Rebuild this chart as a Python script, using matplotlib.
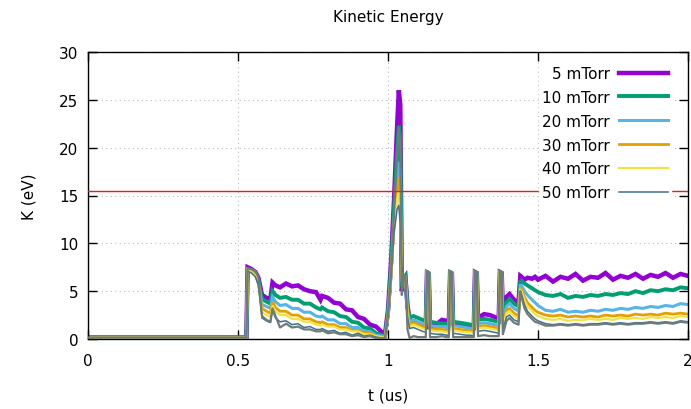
import matplotlib
matplotlib.use("Agg")
import matplotlib.pyplot as plt

# time grid (us), shared by every trace
t_us = [0, 0.528,
        0.532, 0.545, 0.558, 0.568,
        0.58, 0.595, 0.608,
        0.615, 0.625, 0.64,
        0.66, 0.68, 0.70, 0.72, 0.74, 0.76, 0.775, 0.78, 0.80, 0.82,
        0.84, 0.86, 0.88, 0.90, 0.92, 0.94, 0.96, 0.98,
        0.99, 1.00, 1.01, 1.02, 1.03, 1.036, 1.041, 1.046, 1.052, 1.058, 1.065, 1.072,
        1.085, 1.10, 1.115, 1.126,
        1.130, 1.136,
        1.140, 1.16, 1.18, 1.195, 1.203,
        1.207, 1.213,
        1.217, 1.24, 1.26, 1.275, 1.286,
        1.290, 1.296,
        1.300, 1.32, 1.34, 1.355, 1.369,
        1.373, 1.379,
        1.383, 1.395, 1.405, 1.42, 1.435, 1.441, 1.445, 1.455, 1.465, 1.48, 1.49,
        1.500, 1.525, 1.550, 1.575, 1.600, 1.625, 1.650, 1.675, 1.700, 1.725,
        1.750, 1.775, 1.800, 1.825, 1.850, 1.875, 1.900, 1.925, 1.950, 1.975, 2.000]

k_5 = [0.15, 0.15,
       7.5, 7.3, 7.0, 6.4,
       4.6, 4.3, 4.2,
       5.9, 5.6, 5.4,
       5.8, 5.5, 5.6, 5.2, 5.0, 4.9, 4.1, 4.5, 4.3, 3.8,
       3.7, 3.1, 3.0, 2.3, 2.1, 1.5, 1.3, 0.7,
       0.5, 3.0, 8.0, 14.5, 22.0, 26.0, 24.5, 5.0, 6.2, 6.5, 3.5, 2.0,
       1.8, 1.5, 1.4, 1.3,
       6.9, 6.8,
       1.3, 1.5, 2.0, 1.9, 1.8,
       6.9, 6.8,
       1.6, 1.5, 1.4, 1.3, 1.2,
       7.0, 6.9,
       2.2, 2.6, 2.5, 2.3, 2.0,
       7.0, 6.9,
       2.5, 4.4, 4.7, 4.1, 3.8, 6.6, 6.5, 6.2, 6.4, 6.3, 6.5,
       6.2, 6.6, 6.0, 6.5, 6.3, 6.8, 6.1, 6.5, 6.4, 6.9,
       6.2, 6.6, 6.4, 6.8, 6.3, 6.7, 6.5, 6.9, 6.4, 6.8, 6.6]

k_10 = [0.15, 0.15,
        7.3, 7.2, 6.9, 6.2,
        4.2, 3.9, 3.7,
        5.0, 4.6, 4.3,
        4.4, 4.1, 4.1, 3.7, 3.7, 3.3, 3.1, 3.3, 2.9, 2.8,
        2.4, 2.3, 1.8, 1.7, 1.2, 1.1, 0.6, 0.4,
        0.3, 2.8, 7.5, 13.5, 19.5, 22.3, 21.0, 5.5, 6.4, 6.6, 3.3, 2.3,
        2.4, 2.2, 2.0, 1.9,
        7.0, 6.9,
        1.8, 1.7, 1.6, 1.6, 1.5,
        7.0, 6.9,
        1.8, 1.7, 1.6, 1.5, 1.4,
        7.0, 6.9,
        2.0, 2.1, 2.0, 1.9, 1.8,
        7.0, 6.9,
        2.2, 3.8, 4.2, 3.7, 3.4, 6.0, 6.1, 5.8, 5.6, 5.3, 5.1,
        4.9, 4.6, 4.5, 4.7, 4.3, 4.5, 4.4, 4.6, 4.5, 4.7,
        4.6, 4.8, 4.7, 5.0, 4.8, 5.1, 5.0, 5.2, 5.1, 5.4, 5.3]

k_20 = [0.15, 0.15,
        7.3, 7.1, 6.8, 6.0,
        3.6, 3.4, 3.2,
        4.4, 3.9, 3.5,
        3.6, 3.2, 3.2, 2.8, 2.8, 2.4, 2.3, 2.4, 2.0, 2.0,
        1.6, 1.6, 1.2, 1.2, 0.8, 0.8, 0.4, 0.3,
        0.2, 2.6, 7.0, 12.5, 17.0, 18.5, 17.5, 6.0, 6.5, 6.5, 3.0, 1.8,
        2.0, 1.8, 1.6, 1.5,
        7.0, 6.9,
        1.4, 1.3, 1.3, 1.2, 1.2,
        7.0, 6.9,
        1.4, 1.3, 1.2, 1.1, 1.1,
        7.0, 6.9,
        1.6, 1.7, 1.6, 1.5, 1.4,
        7.0, 6.9,
        1.8, 3.4, 3.7, 3.2, 2.9, 5.6, 5.6, 5.0, 4.6, 4.1, 3.8,
        3.5, 3.0, 2.9, 3.1, 2.8, 2.9, 2.8, 3.0, 2.9, 3.1,
        3.0, 3.2, 3.1, 3.3, 3.2, 3.4, 3.3, 3.5, 3.4, 3.7, 3.6]

k_30 = [0.15, 0.15,
        7.2, 7.0, 6.7, 5.9,
        3.2, 2.9, 2.7,
        3.9, 3.3, 2.9,
        2.9, 2.5, 2.5, 2.1, 2.1, 1.8, 1.7, 1.8, 1.5, 1.5,
        1.2, 1.2, 0.9, 0.9, 0.6, 0.6, 0.3, 0.2,
        0.2, 2.5, 6.8, 12.0, 15.5, 16.8, 15.0, 6.5, 6.6, 6.4, 2.8, 1.5,
        1.7, 1.5, 1.3, 1.2,
        7.0, 6.9,
        1.1, 1.0, 1.0, 0.9, 0.9,
        7.0, 6.9,
        1.1, 1.0, 0.9, 0.9, 0.8,
        7.0, 6.9,
        1.3, 1.4, 1.3, 1.2, 1.1,
        7.0, 6.9,
        1.5, 3.0, 3.2, 2.7, 2.4, 5.3, 5.2, 4.4, 3.8, 3.3, 3.0,
        2.8, 2.5, 2.4, 2.5, 2.3, 2.4, 2.3, 2.4, 2.3, 2.5,
        2.4, 2.5, 2.4, 2.6, 2.5, 2.6, 2.5, 2.7, 2.6, 2.7, 2.6]

k_40 = [0.15, 0.15,
        7.2, 7.0, 6.6, 5.8,
        2.8, 2.5, 2.3,
        3.5, 2.9, 2.5,
        2.5, 2.1, 2.1, 1.8, 1.8, 1.5, 1.4, 1.5, 1.3, 1.3,
        1.0, 1.0, 0.8, 0.8, 0.5, 0.5, 0.3, 0.2,
        0.1, 2.4, 6.5, 11.5, 14.5, 15.5, 13.5, 7.0, 6.6, 6.3, 2.6, 1.3,
        1.5, 1.3, 1.1, 1.0,
        7.0, 6.9,
        0.9, 0.8, 0.8, 0.7, 0.7,
        7.0, 6.9,
        0.9, 0.8, 0.7, 0.7, 0.6,
        7.0, 6.9,
        1.1, 1.2, 1.1, 1.0, 0.9,
        7.0, 6.9,
        1.3, 2.7, 2.9, 2.4, 2.1, 5.1, 5.0, 4.1, 3.4, 2.9, 2.6,
        2.4, 2.1, 2.0, 2.1, 1.9, 2.0, 2.0, 2.1, 2.0, 2.1,
        2.0, 2.2, 2.1, 2.2, 2.1, 2.3, 2.2, 2.3, 2.2, 2.4, 2.3]

k_50 = [0.15, 0.15,
        7.1, 6.9, 6.5, 5.6,
        2.2, 1.9, 1.7,
        3.0, 2.2, 1.8,
        1.9, 1.5, 1.6, 1.2, 1.3, 1.0, 1.0, 1.1, 0.8, 0.9,
        0.6, 0.7, 0.4, 0.6, 0.3, 0.4, 0.2, 0.1,
        0.1, 2.3, 6.3, 11.0, 13.5, 14.0, 12.0, 7.5, 6.7, 6.2, 2.4, 1.1,
        1.2, 1.0, 0.8, 0.7,
        7.0, 6.9,
        0.6, 0.5, 0.5, 0.4, 0.4,
        7.0, 6.9,
        0.6, 0.5, 0.4, 0.4, 0.3,
        7.0, 6.9,
        0.8, 0.9, 0.8, 0.7, 0.6,
        7.0, 6.9,
        1.0, 2.3, 2.5, 2.0, 1.8, 4.8, 4.7, 3.6, 2.9, 2.4, 2.1,
        1.9, 1.6, 1.5, 1.6, 1.5, 1.6, 1.5, 1.6, 1.6, 1.7,
        1.6, 1.7, 1.6, 1.7, 1.7, 1.8, 1.7, 1.8, 1.7, 1.9, 1.8]

# grey reference trace drawn on top (no key entry)
k_ref = [0.15, 0.15,
         7.4, 7.3, 7.1, 6.5,
         2.4, 2.0, 1.8,
         3.2, 2.4, 1.2,
         1.6, 1.2, 1.3, 1.0, 1.0, 0.8, 0.8, 0.9, 0.6, 0.7,
         0.5, 0.5, 0.3, 0.4, 0.2, 0.3, 0.1, 0.1,
         0.1, 2.6, 7.0, 13.0, 19.0, 22.0, 20.0, 4.6, 6.6, 6.6, 1.0, 0.1,
         0.3, 0.2, 0.2, 0.2,
         7.1, 7.0,
         0.2, 0.2, 0.3, 0.2, 0.2,
         7.1, 7.0,
         0.2, 0.2, 0.2, 0.2, 0.2,
         7.1, 7.0,
         0.3, 0.4, 0.3, 0.3, 0.3,
         7.1, 7.0,
         0.5, 1.9, 2.2, 1.7, 1.5, 5.0, 4.4, 3.2, 2.6, 2.1, 1.8,
         1.7, 1.4, 1.4, 1.5, 1.4, 1.5, 1.4, 1.5, 1.5, 1.6,
         1.5, 1.6, 1.5, 1.6, 1.6, 1.7, 1.6, 1.7, 1.6, 1.8, 1.7]

labels = ["5 mTorr", "10 mTorr", "20 mTorr", "30 mTorr", "40 mTorr", "50 mTorr"]
series = [k_5, k_10, k_20, k_30, k_40, k_50]
colors = ["#9400d3", "#009e73", "#56b4e9", "#e69f00", "#f0e442", "#3f6f8f"]
widths = [3.2, 2.8, 2.2, 2.0, 1.6, 1.1]
threshold = 15.5

plt.rcParams["font.family"] = "DejaVu Sans"
plt.rcParams["font.size"] = 11

fig = plt.figure(figsize=(6.91, 4.10), dpi=100)
ax = fig.add_axes([88 / 691, 70 / 410, 600 / 691, 287 / 410])

for y, c, w, lab in zip(series, colors, widths, labels):
    ax.plot(t_us, y, color=c, lw=w, label=lab, solid_joinstyle="miter")
ax.plot(t_us, k_ref, color="#6f7a7a", lw=1.6, zorder=3)
ax.axhline(threshold, color="#e51e10", lw=1.0, zorder=3)

ax.set_xlim(0, 2)
ax.set_ylim(0, 30)
ax.set_xticks([0, 0.5, 1, 1.5, 2])
ax.set_xticklabels(["0", "0.5", "1", "1.5", "2"])
ax.set_yticks([0, 5, 10, 15, 20, 25, 30])
ax.tick_params(direction="in", length=6.5, width=1, top=True, right=True,
               labelsize=11, colors="black")
ax.tick_params(axis="x", pad=10)
ax.tick_params(axis="y", pad=7)
ax.grid(True, color="#bbbbbb", lw=0.8, linestyle=(0, (1, 3)))
for s in ax.spines.values():
    s.set_linewidth(1.0)

ax.set_title("Kinetic Energy", fontsize=11, pad=22)
ax.set_xlabel("t (us)", fontsize=11, labelpad=14)
ax.set_ylabel("K (eV)", fontsize=11, labelpad=16)

# key: text then sample line, opaque white, no border (gnuplot style)
ax.legend(loc="upper right", bbox_to_anchor=(0.972, 0.962), borderaxespad=0,
          markerfirst=False, frameon=True, facecolor="white",
          edgecolor="white", framealpha=1.0, fancybox=False,
          handlelength=3.2, handletextpad=0.6, labelspacing=0.58,
          borderpad=0.2, fontsize=11)

fig.savefig("out.png", dpi=100)
